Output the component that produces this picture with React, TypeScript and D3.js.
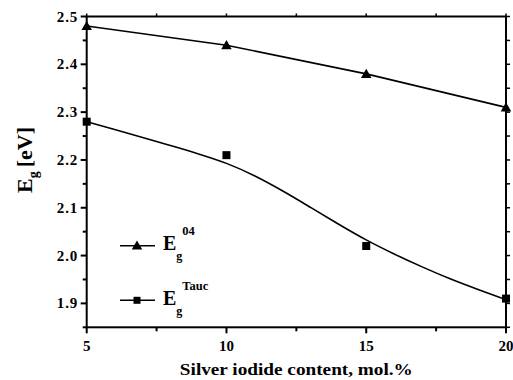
import React from "react";
import * as d3 from "d3";

const xValues = [5, 10, 15, 20];
const eg04 = [2.48, 2.44, 2.38, 2.31];
const egTauc = [2.28, 2.21, 2.02, 1.91];
const fitX = [5, 6, 7, 8, 9, 10, 11, 12, 13, 14, 15, 16, 17, 18, 19, 20];
const fitTauc = [2.28, 2.264, 2.247, 2.23, 2.213, 2.194, 2.168, 2.136, 2.101, 2.066, 2.032, 2.003, 1.976, 1.951, 1.929, 1.908];
const xMajor = [5, 10, 15, 20];
const xMinor = [7.5, 12.5, 17.5];
const yMajor = [1.9, 2.0, 2.1, 2.2, 2.3, 2.4, 2.5];
const yMinor = [1.85, 1.95, 2.05, 2.15, 2.25, 2.35, 2.45];

const W = 513;
const H = 380;
const L = 86.7, R = 506, T = 16.5, B = 327.3;
const font = "'Liberation Serif', 'Times New Roman', serif";

export default function App() {
  const x = d3.scaleLinear().domain([5, 20]).range([L, R]);
  const y = d3.scaleLinear().domain([1.85, 2.5]).range([B, T]);
  const line04 = d3.line<number>().x((_, i) => x(xValues[i])).y((d) => y(d))(eg04) || "";
  const lineFit = d3
    .line<number>()
    .x((_, i) => x(fitX[i]))
    .y((d) => y(d))
    .curve(d3.curveBasis)(fitTauc) || "";
  const tri = d3.symbol().type(d3.symbolTriangle).size(48)() || "";
  const sq = (cx: number, cy: number, s = 8) => (
    <rect x={cx - s / 2} y={cy - s / 2} width={s} height={s} fill="#000" />
  );

  return (
    <svg
      width={W}
      height={H}
      style={{ position: "absolute", left: 0, top: 0, background: "#fff" }}
      fontFamily={font}
    >
      {/* frame */}
      <rect x={L} y={T} width={R - L} height={B - T} fill="none" stroke="#000" strokeWidth={2} />
      {/* bottom ticks */}
      {xMajor.map((v) => (
        <line key={"xb" + v} x1={x(v)} x2={x(v)} y1={B} y2={B + 6} stroke="#000" strokeWidth={2} />
      ))}
      {xMinor.map((v) => (
        <line key={"xbm" + v} x1={x(v)} x2={x(v)} y1={B} y2={B + 4} stroke="#000" strokeWidth={2} />
      ))}
      {/* top ticks */}
      {[...xMajor, ...xMinor].map((v) => (
        <line key={"xt" + v} x1={x(v)} x2={x(v)} y1={T} y2={T - 3} stroke="#000" strokeWidth={1.5} />
      ))}
      {/* left ticks */}
      {yMajor.map((v) => (
        <line key={"yl" + v} x1={L - 6} x2={L} y1={y(v)} y2={y(v)} stroke="#000" strokeWidth={2} />
      ))}
      {yMinor.map((v) => (
        <line key={"ylm" + v} x1={L - 4} x2={L} y1={y(v)} y2={y(v)} stroke="#000" strokeWidth={2} />
      ))}
      {/* right ticks */}
      {[...yMajor, ...yMinor].map((v) => (
        <line key={"yr" + v} x1={R} x2={R + 4} y1={y(v)} y2={y(v)} stroke="#000" strokeWidth={1.5} />
      ))}
      {/* tick labels */}
      {xMajor.map((v) => (
        <text key={"xl" + v} x={x(v)} y={351} textAnchor="middle" fontSize={15} fontWeight="bold">
          {v}
        </text>
      ))}
      {yMajor.map((v) => (
        <text
          key={"ylb" + v}
          x={78}
          y={y(v) + 5}
          textAnchor="end"
          fontSize={15}
          fontWeight="bold"
          letterSpacing={0.8}
        >
          {v.toFixed(1)}
        </text>
      ))}
      {/* axis titles */}
      <text x={(L + R) / 2} y={375} textAnchor="middle" fontSize={16} fontWeight="bold" textLength={233} lengthAdjust="spacingAndGlyphs">
        Silver iodide content, mol.%
      </text>
      <g transform="translate(32,193) rotate(-90)">
        <text x={0} y={0} fontSize={22} fontWeight="bold">
          <tspan>E</tspan>
          <tspan fontSize={14} dy={6}>g</tspan>
          <tspan dy={-6} dx={4}>[eV]</tspan>
        </text>
      </g>
      {/* data lines */}
      <path d={line04} fill="none" stroke="#000" strokeWidth={1.6} />
      <path d={lineFit} fill="none" stroke="#000" strokeWidth={1.6} />
      {/* markers */}
      {eg04.map((v, i) => (
        <path key={"t" + i} d={tri} transform={`translate(${x(xValues[i])},${y(v) + 1})`} fill="#000" />
      ))}
      {egTauc.map((v, i) => (
        <g key={"s" + i}>{sq(x(xValues[i]), y(v))}</g>
      ))}
      {/* legend */}
      <line x1={120} x2={155} y1={245.7} y2={245.7} stroke="#000" strokeWidth={1.6} />
      <path d={tri} transform="translate(137,246.5)" fill="#000" />
      <text x={163} y={250} fontSize={20} fontWeight="bold">
        <tspan>E</tspan>
        <tspan fontSize={12} dy={10}>g</tspan>
        <tspan fontSize={12.5} dy={-25} dx={0}>04</tspan>
      </text>
      <line x1={120} x2={155} y1={300.3} y2={300.3} stroke="#000" strokeWidth={1.6} />
      {sq(137, 300.3, 7)}
      <text x={163} y={305} fontSize={20} fontWeight="bold">
        <tspan>E</tspan>
        <tspan fontSize={12} dy={10}>g</tspan>
        <tspan fontSize={12.5} dy={-25} dx={0}>Tauc</tspan>
      </text>
    </svg>
  );
}
